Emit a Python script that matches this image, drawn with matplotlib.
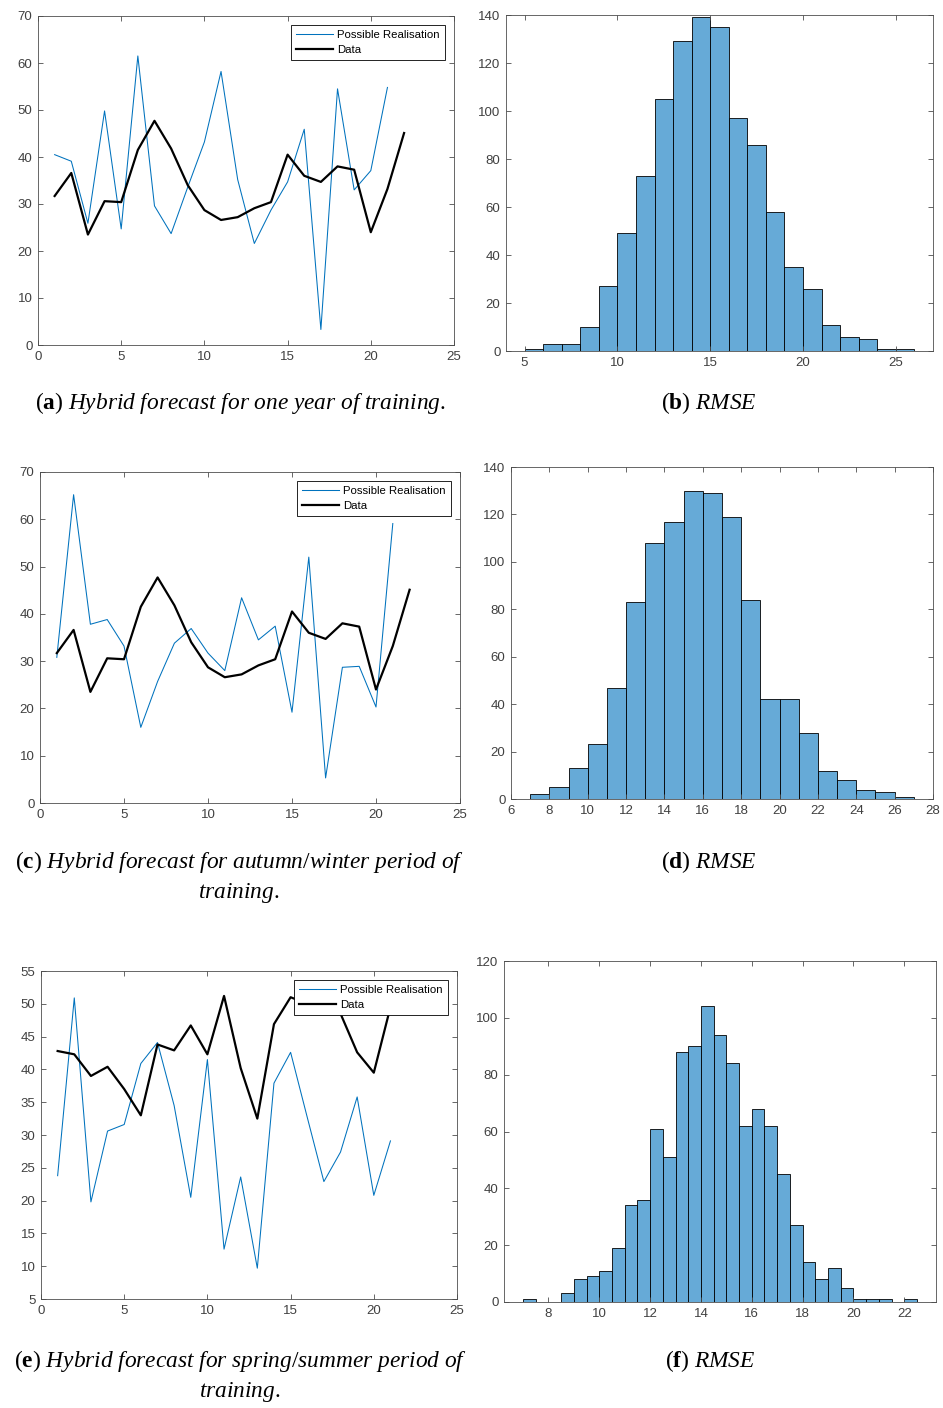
import matplotlib
matplotlib.use("Agg")
import matplotlib.pyplot as plt

# time steps
steps_22 = list(range(1, 23))
steps_21 = list(range(1, 22))

# observed data (one year / autumn-winter share the same series)
data_year = [31.7, 36.6, 23.5, 30.6, 30.4, 41.5, 47.7, 41.8, 34.0, 28.7, 26.6,
             27.2, 29.1, 30.4, 40.5, 36.0, 34.7, 38.0, 37.3, 24.0, 33.2, 45.1]
data_spring = [42.8, 42.3, 39.0, 40.4, 37.0, 33.0, 43.8, 42.9, 46.7, 42.3, 51.2,
               40.2, 32.5, 46.9, 51.0, 50.0, 52.0, 48.5, 42.6, 39.5, 49.5]

# simulated realisations
real_year = [40.5, 39.1, 25.9, 49.8, 24.7, 61.5, 29.6, 23.7, 33.6, 43.2, 58.2,
             35.2, 21.6, 28.7, 34.7, 45.9, 3.3, 54.5, 33.0, 37.1, 54.8]
real_autumn = [30.8, 65.2, 37.8, 38.8, 33.2, 16.0, 25.7, 33.8, 36.9, 31.7, 28.0,
               43.4, 34.5, 37.4, 19.2, 52.0, 5.3, 28.7, 28.9, 20.3, 59.1]
real_spring = [23.8, 50.9, 19.8, 30.6, 31.6, 40.9, 44.1, 34.5, 20.5, 41.5, 12.6,
               23.6, 9.7, 37.9, 42.6, 32.7, 22.9, 27.4, 35.8, 20.8, 29.1]

# RMSE histograms: first bin edge, bin width, counts
rmse_year_start, rmse_year_width = 5, 1
rmse_year_counts = [1, 3, 3, 10, 27, 49, 73, 105, 129, 139, 135, 97, 86, 58,
                    35, 26, 11, 6, 5, 1, 1]
rmse_autumn_start, rmse_autumn_width = 7, 1
rmse_autumn_counts = [2, 5, 13, 23, 47, 83, 108, 117, 130, 129, 119, 84, 42, 42,
                      28, 12, 8, 4, 3, 1]
rmse_spring_start, rmse_spring_width = 7, 0.5
rmse_spring_counts = [1, 0, 0, 3, 8, 9, 11, 19, 34, 36, 61, 51, 88, 90, 104, 94,
                      84, 62, 68, 62, 45, 27, 14, 8, 12, 5, 1, 1, 1, 0, 1]

W, H = 943, 1408
BLUE = "#0072BD"
FACE = "#66AAD7"
AXC = "#4d4d4d"
TICKC = "#404040"

plt.rcParams["mathtext.fontset"] = "custom"
plt.rcParams["mathtext.rm"] = "Liberation Serif"
plt.rcParams["mathtext.it"] = "Liberation Serif:italic"
plt.rcParams["mathtext.bf"] = "Liberation Serif:bold"

fig = plt.figure(figsize=(W / 100, H / 100), dpi=100)


def px_axes(l, t, r, b):
    ax = fig.add_axes([l / W, 1 - b / H, (r - l) / W, (b - t) / H])
    for s in ax.spines.values():
        s.set_color(AXC)
        s.set_linewidth(0.6)
    ax.tick_params(direction="in", top=True, right=True, length=3.5, width=0.6,
                   color=AXC, labelcolor=TICKC, labelsize=9.5, pad=4)
    return ax


def style_labels(ax):
    for lab in ax.get_xticklabels() + ax.get_yticklabels():
        lab.set_family("Liberation Sans")


def line_panel(ax, real, data, data_x, ylim, yticks):
    ax.plot(steps_21, real, color=BLUE, lw=0.75, label="Possible Realisation")
    ax.plot(data_x, data, color="black", lw=1.6, label="Data")
    ax.set_xlim(0, 25)
    ax.set_xticks(range(0, 26, 5))
    ax.set_ylim(*ylim)
    ax.set_yticks(yticks)
    style_labels(ax)
    leg = ax.legend(loc="upper right", frameon=True, fancybox=False,
                    framealpha=1, edgecolor="black", handlelength=3.25,
                    handletextpad=0.35, borderpad=0.45, labelspacing=0.45,
                    borderaxespad=0.8, prop={"family": "Liberation Sans", "size": 8.2})
    leg.get_frame().set_linewidth(0.6)


def hist_panel(ax, start, width, counts, xlim, xticks, ylim, yticks):
    lefts = [start + i * width for i in range(len(counts))]
    ax.bar(lefts, counts, width=width, align="edge", color=FACE,
           edgecolor="black", linewidth=0.6)
    ax.set_xlim(*xlim)
    ax.set_xticks(xticks)
    ax.set_ylim(*ylim)
    ax.set_yticks(yticks)
    style_labels(ax)


def caption(x, y, label, text):
    lines = text.split("\n")
    out = []
    for i, line in enumerate(lines):
        body = r"$\mathit{" + line.replace(" ", r"\ ") + "}$"
        if i == 0:
            body = r"($\mathbf{" + label + r"}$) " + body
        out.append(body)
    fig.text(x / W, 1 - y / H, "\n".join(out), ha="center", va="top",
             fontsize=16.8, family="Liberation Serif", multialignment="center",
             color="black", linespacing=1.35)


ax = px_axes(38, 16, 454, 345)
line_panel(ax, real_year, data_year, steps_22, (0, 70), range(0, 71, 10))
ax = px_axes(506, 15, 933, 351)
hist_panel(ax, rmse_year_start, rmse_year_width, rmse_year_counts,
           (4, 27), range(5, 26, 5), (0, 140), range(0, 141, 20))

ax = px_axes(40, 472, 460, 803)
line_panel(ax, real_autumn, data_year, steps_22, (0, 70), range(0, 71, 10))
ax = px_axes(511, 467, 933, 799)
hist_panel(ax, rmse_autumn_start, rmse_autumn_width, rmse_autumn_counts,
           (6, 28), range(6, 29, 2), (0, 140), range(0, 141, 20))

ax = px_axes(41, 971, 457, 1299)
line_panel(ax, real_spring, data_spring, steps_21, (5, 55), range(5, 56, 5))
ax = px_axes(504, 961, 936, 1302)
hist_panel(ax, rmse_spring_start, rmse_spring_width, rmse_spring_counts,
           (6.25, 23.25), range(8, 23, 2), (0, 120), range(0, 121, 20))

caption(240, 390, "a", "Hybrid forecast for one year of training.")
caption(709, 390, "b", "RMSE")
caption(239, 849, "c", "Hybrid forecast for autumn/winter period of\ntraining.")
caption(709, 849, "d", "RMSE")
caption(240, 1348, "e", "Hybrid forecast for spring/summer period of\ntraining.")
caption(710, 1348, "f", "RMSE")

fig.savefig("out.png", dpi=100, facecolor="white")
